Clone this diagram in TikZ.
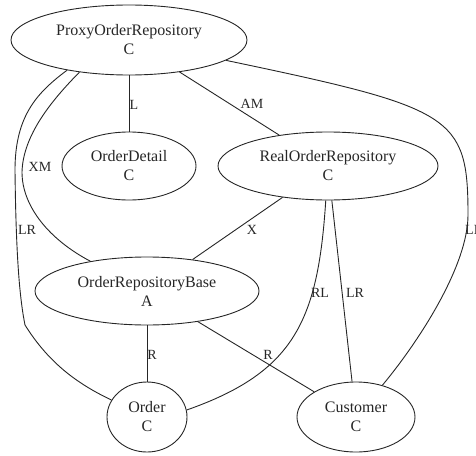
\documentclass[tikz,border=0pt]{standalone}
\usepackage{fontspec}
\setmainfont{Liberation Serif}
\usetikzlibrary{shapes.geometric}

\tikzset{
  cls/.style={draw=black!85, line width=0.9pt, ellipse, inner sep=0pt,
    align=center, font=\fontsize{16}{19}\selectfont, text=black!85},
  link/.style={draw=black!85, line width=0.9pt},
  lbl/.style={font=\fontsize{14}{16}\selectfont, text=black!85, inner sep=0pt}
}

\begin{document}
\begin{tikzpicture}[x=1pt,y=-1pt]
  \useasboundingbox (0,0) rectangle (476,455);

  % classes
  \node[cls, minimum width=236pt, minimum height=70pt] (proxy) at (129,40) {ProxyOrderRepository\\C};
  \node[cls, minimum width=134pt, minimum height=68pt] (detail) at (129,166) {OrderDetail\\C};
  \node[cls, minimum width=220pt, minimum height=68pt] (real) at (328,166) {RealOrderRepository\\C};
  \node[cls, minimum width=224pt, minimum height=68pt] (base) at (147,291) {OrderRepositoryBase\\A};
  \node[cls, minimum width=80pt, minimum height=70pt] (order) at (147,417) {Order\\C};
  \node[cls, minimum width=118pt, minimum height=70pt] (customer) at (356,417) {Customer\\C};

  % straight relations
  \draw[link] (proxy) -- (detail);
  \draw[link] (proxy) -- (real);
  \draw[link] (real) -- (base);
  \draw[link] (real) -- (customer);
  \draw[link] (base) -- (order);
  \draw[link] (base) -- (customer);

  % curved relations
  \draw[link] (proxy.213.4) .. controls (52,100) and (23,135) .. (22,172)
                      .. controls (22,207) and (50,240) .. (base);
  \draw[link] (proxy.206.6) .. controls (38,92) and (15,115) .. (15,170)
                      .. controls (16,260) and (20,300) .. (25,325)
                      .. controls (50,365) and (80,385) .. (order);
  \draw[link] (real) .. controls (318,320) and (295,372) .. (order.10);
  \draw[link] (proxy) .. controls (453,108) and (468,115) .. (468,215)
                      .. controls (468,265) and (420,340) .. (customer);

  % relation labels
  \node[lbl] (lL) at (134,105) {L};
  \node[lbl] (lAM) at (252,104) {AM};
  \node[lbl] (lXM) at (40,167) {XM};
  \node[lbl] (lLRa) at (27,230) {LR};
  \node[lbl] (lX) at (252,230) {X};
  \node[lbl] (lRL) at (320,293) {RL};
  \node[lbl] (lLRb) at (355,293) {LR};
  \node[lbl] (lRa) at (152,355) {R};
  \node[lbl] (lRb) at (268,355) {R};
  \node[lbl, anchor=west] (lLRc) at (465,230) {LR};
\end{tikzpicture}
\end{document}
